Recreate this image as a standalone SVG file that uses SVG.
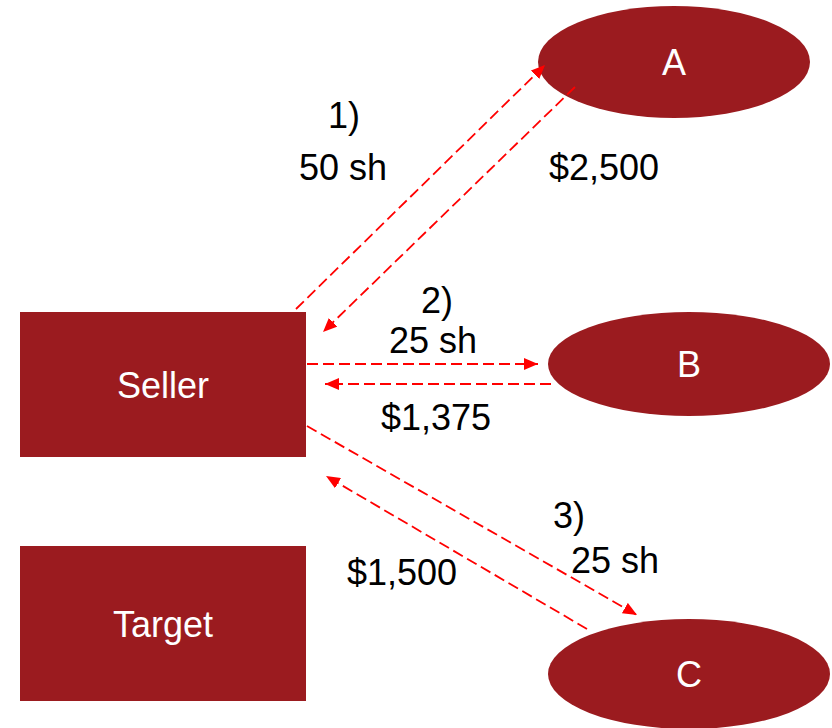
<svg xmlns="http://www.w3.org/2000/svg" width="832" height="728" viewBox="0 0 832 728">
  <defs>
    <marker id="arrow" viewBox="0 0 14 12" refX="14" refY="6" markerWidth="14" markerHeight="12" markerUnits="userSpaceOnUse" orient="auto">
      <path d="M0,0 L14,6 L0,12 z" fill="#ff0000"/>
    </marker>
    <style>
      .node { fill: #9b1b1f; }
      .nlabel { font-family: "Liberation Sans", Arial, sans-serif; font-size: 36px; fill: #ffffff; text-anchor: middle; }
      .label { font-family: "Liberation Sans", Arial, sans-serif; font-size: 36px; fill: #000000; text-anchor: middle; }
      .flow { stroke: #ff0000; stroke-width: 1.8; stroke-dasharray: 11 5; fill: none; marker-end: url(#arrow); }
    </style>
  </defs>
  <rect width="832" height="728" fill="#ffffff"/>

  <g id="seller">
    <rect class="node" x="20" y="312" width="286" height="145"/>
    <text class="nlabel" x="163" y="398">Seller</text>
  </g>
  <g id="target">
    <rect class="node" x="20" y="546" width="286" height="155"/>
    <text class="nlabel" x="163" y="637">Target</text>
  </g>
  <g id="buyer-a">
    <ellipse class="node" cx="674" cy="62" rx="136" ry="56"/>
    <text class="nlabel" x="674" y="75">A</text>
  </g>
  <g id="buyer-b">
    <ellipse class="node" cx="689" cy="364" rx="141" ry="52"/>
    <text class="nlabel" x="689" y="377">B</text>
  </g>
  <g id="buyer-c">
    <ellipse class="node" cx="689" cy="674" rx="141" ry="55"/>
    <text class="nlabel" x="689" y="687">C</text>
  </g>

  <g id="connectors">
    <line class="flow" x1="296" y1="309" x2="545" y2="65"/>
    <line class="flow" x1="575" y1="87" x2="323" y2="332"/>
    <line class="flow" x1="307" y1="364" x2="538" y2="364"/>
    <line class="flow" x1="551" y1="384" x2="325" y2="384"/>
    <line class="flow" x1="307" y1="426" x2="637" y2="615"/>
    <line class="flow" x1="587" y1="629" x2="326" y2="476"/>
  </g>

  <g id="labels">
    <text class="label" x="344" y="128">1)</text>
    <text class="label" x="343" y="180">50 sh</text>
    <text class="label" x="604" y="180">$2,500</text>
    <text class="label" x="437" y="313">2)</text>
    <text class="label" x="433" y="353">25 sh</text>
    <text class="label" x="436" y="430">$1,375</text>
    <text class="label" x="569" y="528">3)</text>
    <text class="label" x="615" y="573">25 sh</text>
    <text class="label" x="402" y="585">$1,500</text>
  </g>
</svg>
